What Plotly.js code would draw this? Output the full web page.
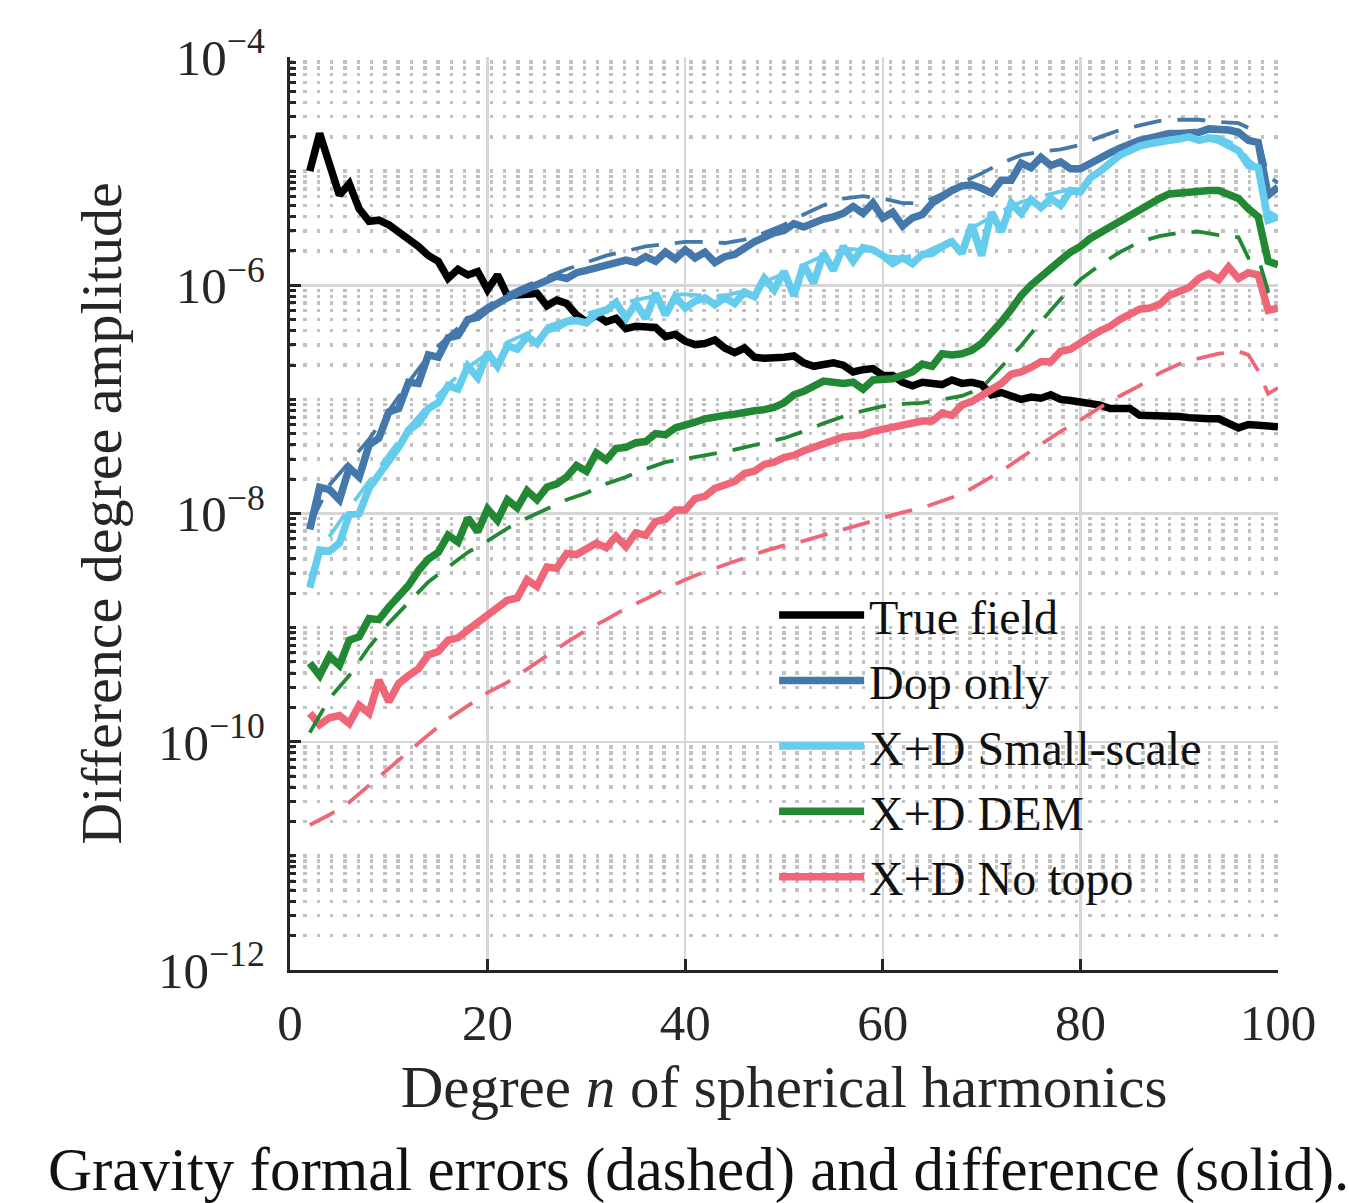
<!DOCTYPE html>
<html>
<head>
<meta charset="utf-8">
<script src="https://cdn.plot.ly/plotly-3.0.1.min.js"></script>
<style>
  html, body { margin: 0; padding: 0; background: #ffffff; }
  #chart { width: 1349px; height: 1203px; }
</style>
</head>
<body>
<div id="chart"></div>
<script>
// ---------- data (values as log10 of the amplitude) ----------
const degrees = [2,3,4,5,6,7,8,9,10,11,12,13,14,15,16,17,18,19,20,21,22,23,24,25,26,27,28,29,30,31,32,33,34,35,36,37,38,39,40,41,42,43,44,45,46,47,48,49,50,51,52,53,54,55,56,57,58,59,60,61,62,63,64,65,66,67,68,69,70,71,72,73,74,75,76,77,78,79,80,81,82,83,84,85,86,87,88,89,90,91,92,93,94,95,96,97,98,99,100];

const trueFieldLog = [-5.00,-4.67,-4.94,-5.21,-5.11,-5.33,-5.44,-5.43,-5.47,-5.53,-5.59,-5.66,-5.74,-5.79,-5.94,-5.86,-5.91,-5.88,-6.04,-5.91,-6.09,-6.09,-6.08,-6.07,-6.18,-6.13,-6.16,-6.26,-6.32,-6.26,-6.32,-6.29,-6.38,-6.36,-6.37,-6.37,-6.45,-6.43,-6.49,-6.52,-6.51,-6.48,-6.55,-6.59,-6.55,-6.63,-6.64,-6.64,-6.63,-6.62,-6.68,-6.71,-6.70,-6.68,-6.70,-6.76,-6.74,-6.73,-6.79,-6.79,-6.85,-6.88,-6.85,-6.86,-6.87,-6.83,-6.86,-6.85,-6.87,-6.96,-6.94,-6.97,-7.00,-6.98,-6.99,-6.96,-7.00,-7.01,-7.02,-7.03,-7.05,-7.08,-7.08,-7.08,-7.14,-7.14,-7.15,-7.15,-7.15,-7.16,-7.17,-7.17,-7.17,-7.21,-7.25,-7.22,-7.23,-7.24,-7.24];

const dopOnlyLog = [-8.14,-7.77,-7.79,-7.88,-7.60,-7.68,-7.40,-7.34,-7.11,-7.08,-6.85,-6.86,-6.61,-6.63,-6.46,-6.44,-6.30,-6.28,-6.21,-6.15,-6.11,-6.07,-6.03,-5.99,-5.95,-5.92,-5.94,-5.89,-5.87,-5.85,-5.82,-5.81,-5.78,-5.80,-5.75,-5.79,-5.71,-5.77,-5.69,-5.76,-5.71,-5.80,-5.75,-5.73,-5.67,-5.62,-5.58,-5.54,-5.52,-5.46,-5.49,-5.45,-5.42,-5.40,-5.37,-5.31,-5.37,-5.28,-5.41,-5.36,-5.48,-5.41,-5.38,-5.28,-5.22,-5.17,-5.13,-5.12,-5.15,-5.19,-5.08,-5.08,-4.93,-4.97,-4.88,-4.95,-4.92,-4.98,-4.98,-4.93,-4.89,-4.84,-4.80,-4.76,-4.73,-4.71,-4.69,-4.67,-4.67,-4.66,-4.66,-4.63,-4.63,-4.64,-4.66,-4.73,-4.75,-5.21,-5.14];

const smallScaleLog = [-8.65,-8.32,-8.33,-8.26,-8.01,-8.00,-7.78,-7.66,-7.52,-7.42,-7.27,-7.21,-7.08,-7.03,-6.88,-6.91,-6.71,-6.81,-6.59,-6.71,-6.53,-6.56,-6.45,-6.51,-6.39,-6.37,-6.32,-6.31,-6.33,-6.25,-6.22,-6.15,-6.29,-6.16,-6.29,-6.07,-6.26,-6.10,-6.20,-6.14,-6.11,-6.17,-6.11,-6.16,-6.06,-6.10,-5.94,-6.04,-5.88,-6.09,-5.82,-5.98,-5.72,-5.87,-5.66,-5.79,-5.67,-5.69,-5.74,-5.81,-5.76,-5.81,-5.73,-5.72,-5.66,-5.62,-5.72,-5.47,-5.74,-5.36,-5.53,-5.28,-5.37,-5.25,-5.32,-5.24,-5.30,-5.17,-5.18,-5.06,-5.00,-4.93,-4.86,-4.82,-4.78,-4.76,-4.74,-4.73,-4.72,-4.70,-4.73,-4.71,-4.73,-4.77,-4.82,-4.95,-4.97,-5.43,-5.40];

const demLog = [-9.31,-9.42,-9.25,-9.33,-9.11,-9.08,-8.92,-8.93,-8.82,-8.73,-8.63,-8.50,-8.40,-8.34,-8.19,-8.25,-8.04,-8.16,-7.96,-8.06,-7.88,-7.95,-7.80,-7.88,-7.77,-7.74,-7.68,-7.58,-7.63,-7.47,-7.53,-7.43,-7.42,-7.38,-7.37,-7.30,-7.31,-7.25,-7.23,-7.20,-7.17,-7.15,-7.14,-7.13,-7.11,-7.10,-7.09,-7.07,-7.03,-6.96,-6.93,-6.88,-6.84,-6.85,-6.86,-6.85,-6.91,-6.83,-6.83,-6.82,-6.79,-6.76,-6.69,-6.71,-6.60,-6.61,-6.60,-6.57,-6.51,-6.42,-6.32,-6.21,-6.09,-6.00,-5.92,-5.86,-5.78,-5.71,-5.66,-5.59,-5.54,-5.49,-5.43,-5.38,-5.33,-5.29,-5.24,-5.20,-5.19,-5.18,-5.17,-5.17,-5.17,-5.20,-5.24,-5.33,-5.40,-5.79,-5.82];

const noTopoLog = [-9.75,-9.85,-9.79,-9.77,-9.84,-9.68,-9.75,-9.46,-9.65,-9.49,-9.42,-9.36,-9.24,-9.21,-9.11,-9.09,-9.02,-8.95,-8.90,-8.82,-8.76,-8.74,-8.58,-8.64,-8.47,-8.48,-8.35,-8.36,-8.30,-8.26,-8.30,-8.20,-8.29,-8.17,-8.19,-8.07,-8.05,-7.97,-7.97,-7.87,-7.85,-7.78,-7.75,-7.72,-7.65,-7.63,-7.57,-7.55,-7.51,-7.49,-7.45,-7.42,-7.39,-7.36,-7.33,-7.32,-7.31,-7.28,-7.26,-7.25,-7.23,-7.21,-7.19,-7.19,-7.12,-7.14,-7.05,-7.02,-6.97,-6.91,-6.86,-6.78,-6.76,-6.72,-6.67,-6.67,-6.58,-6.56,-6.50,-6.45,-6.40,-6.36,-6.30,-6.26,-6.21,-6.20,-6.17,-6.09,-6.05,-6.02,-5.94,-5.90,-5.95,-5.84,-5.94,-5.89,-5.91,-6.22,-6.20];

// formal errors (dashed), read at these degrees
const formalDegrees = [2,4,6,8,10,12,14,16,18,20,22,24,26,28,30,32,34,36,38,40,42,44,46,48,50,52,54,56,58,60,62,64,66,68,70,72,74,76,78,80,82,84,86,88,90,92,94,96,97,98,99,100];
const dopOnlyFormalLog    = [-8.10,-7.75,-7.55,-7.35,-7.10,-6.85,-6.62,-6.45,-6.30,-6.18,-6.08,-6.00,-5.93,-5.86,-5.80,-5.74,-5.70,-5.66,-5.64,-5.62,-5.62,-5.63,-5.60,-5.54,-5.47,-5.38,-5.30,-5.24,-5.22,-5.24,-5.28,-5.28,-5.20,-5.10,-5.02,-4.93,-4.86,-4.83,-4.81,-4.77,-4.70,-4.64,-4.60,-4.56,-4.55,-4.55,-4.57,-4.58,-4.62,-4.70,-5.05,-5.10];
const smallScaleFormalLog = [-8.55,-8.20,-7.95,-7.72,-7.48,-7.25,-7.05,-6.87,-6.72,-6.60,-6.50,-6.42,-6.36,-6.30,-6.25,-6.20,-6.15,-6.11,-6.08,-6.08,-6.09,-6.09,-6.05,-5.97,-5.90,-5.82,-5.74,-5.68,-5.69,-5.74,-5.76,-5.72,-5.64,-5.55,-5.45,-5.35,-5.27,-5.22,-5.18,-5.13,-5.00,-4.87,-4.78,-4.73,-4.70,-4.69,-4.70,-4.78,-4.90,-4.97,-5.35,-5.40];
const demFormalLog        = [-9.92,-9.62,-9.42,-9.17,-8.96,-8.78,-8.60,-8.47,-8.34,-8.24,-8.13,-8.04,-7.96,-7.88,-7.82,-7.74,-7.68,-7.61,-7.55,-7.52,-7.49,-7.46,-7.42,-7.38,-7.34,-7.28,-7.21,-7.15,-7.10,-7.06,-7.04,-7.03,-7.00,-6.97,-6.90,-6.72,-6.53,-6.32,-6.12,-5.95,-5.82,-5.71,-5.62,-5.57,-5.54,-5.53,-5.56,-5.58,-5.76,-5.76,-6.05,-6.00];
const noTopoFormalLog     = [-10.73,-10.64,-10.53,-10.38,-10.23,-10.08,-9.94,-9.80,-9.68,-9.57,-9.48,-9.36,-9.25,-9.13,-9.02,-8.93,-8.83,-8.75,-8.66,-8.58,-8.51,-8.45,-8.39,-8.33,-8.28,-8.24,-8.19,-8.14,-8.09,-8.04,-7.99,-7.95,-7.89,-7.83,-7.73,-7.63,-7.51,-7.39,-7.28,-7.18,-7.07,-6.97,-6.88,-6.77,-6.69,-6.64,-6.60,-6.58,-6.61,-6.75,-6.95,-6.90];

const seriesNames = ["True field", "Dop only", "X+D Small-scale", "X+D DEM", "X+D No topo"];
const seriesColors = ["#000000", "#4477AA", "#66CCEE", "#228833", "#EE6677"];

const xTickVals = [0, 20, 40, 60, 80, 100];
const yMajorExponents = [-12, -10, -8, -6, -4];
const yMajorTickText = ["10<sup>−12</sup>", "10<sup>−10</sup>", "10<sup>−8</sup>", "10<sup>−6</sup>", "10<sup>−4</sup>"];

// ---------- build ----------
const toAmp = arr => arr.map(v => Math.pow(10, v));
const FONT = "Liberation Serif, Times New Roman, serif";
const INK = "#262626";

const solidSets = [trueFieldLog, dopOnlyLog, smallScaleLog, demLog, noTopoLog];
const traces = [];
solidSets.forEach((s, i) => {
  traces.push({
    x: degrees, y: toAmp(s), type: "scatter", mode: "lines",
    name: seriesNames[i],
    line: { color: seriesColors[i], width: 7.5, shape: "linear" },
    hoverinfo: "skip"
  });
});
const formalSets = [null, dopOnlyFormalLog, smallScaleFormalLog, demFormalLog, noTopoFormalLog];
formalSets.forEach((s, i) => {
  if (!s) return;
  traces.push({
    x: formalDegrees, y: toAmp(s), type: "scatter", mode: "lines",
    name: seriesNames[i] + " (formal)", showlegend: false,
    line: { color: seriesColors[i], width: 3.8, dash: "28px,16px" },
    hoverinfo: "skip"
  });
});
// empty trace to host the minor-grid overlay axis
traces.push({ x: [], y: [], yaxis: "y2", showlegend: false, hoverinfo: "skip", type: "scatter", mode: "lines" });

// minor tick positions (2..9 x 10^k, plus the unlabelled odd decades)
const minorVals = [];
for (let k = -12; k < -4; k++) {
  if ((k % 2) !== 0) minorVals.push(Math.pow(10, k));
  for (let m = 2; m <= 9; m++) minorVals.push(m * Math.pow(10, k));
}

const layout = {
  width: 1349, height: 1203,
  paper_bgcolor: "#ffffff", plot_bgcolor: "#ffffff",
  margin: { l: 290, r: 71, t: 57, b: 233, pad: 0 },
  font: { family: FONT, size: 50, color: INK },
  showlegend: true,
  legend: {
    x: 0.49, y: 0.43, xanchor: "left", yanchor: "top",
    bgcolor: "rgba(0,0,0,0)", borderwidth: 0,
    font: { family: FONT, size: 48, color: "#111111" },
    itemwidth: 85
  },
  xaxis: {
    range: [0, 100], tickmode: "array", tickvals: xTickVals,
    showgrid: true, gridcolor: "#d6d6d6", gridwidth: 2.5,
    zeroline: false, showline: true, linecolor: INK, linewidth: 3,
    ticks: "inside", ticklen: 11, tickwidth: 3, tickcolor: INK,
    ticklabelstandoff: 6,
    tickfont: { family: FONT, size: 51, color: INK },
    title: { text: "Degree <i>n</i> of spherical harmonics", font: { family: FONT, size: 59, color: INK }, standoff: 16 },
    automargin: false
  },
  yaxis: {
    type: "log", range: [-12, -4], tickmode: "array",
    tickvals: yMajorExponents.map(e => Math.pow(10, e)), ticktext: yMajorTickText,
    showgrid: true, gridcolor: "#d6d6d6", gridwidth: 2.5,
    zeroline: false, showline: true, linecolor: INK, linewidth: 3,
    ticks: "inside", ticklen: 11, tickwidth: 3, tickcolor: INK,
    ticklabelstandoff: 12,
    tickfont: { family: FONT, size: 51, color: INK },
    title: { text: "Difference degree amplitude", font: { family: FONT, size: 58, color: INK }, standoff: 18 },
    automargin: false
  },
  yaxis2: {
    type: "log", range: [-12, -4], overlaying: "y", side: "left", anchor: "x",
    tickmode: "array", tickvals: minorVals, showticklabels: false,
    showgrid: true, gridcolor: "#c2c2c2", gridwidth: 3.5, griddash: "3.5px,9.8px",
    zeroline: false, showline: false,
    ticks: "inside", ticklen: 6, tickwidth: 3, tickcolor: INK,
    automargin: false
  },
  annotations: [{
    text: "Gravity formal errors (dashed) and difference (solid).",
    xref: "paper", yref: "paper", x: 0.413, y: -0.219,
    xanchor: "center", yanchor: "middle", showarrow: false,
    font: { family: FONT, size: 61, color: "#111111" }
  }]
};

Plotly.newPlot("chart", traces, layout, { displayModeBar: false, staticPlot: true });
</script>
</body>
</html>
